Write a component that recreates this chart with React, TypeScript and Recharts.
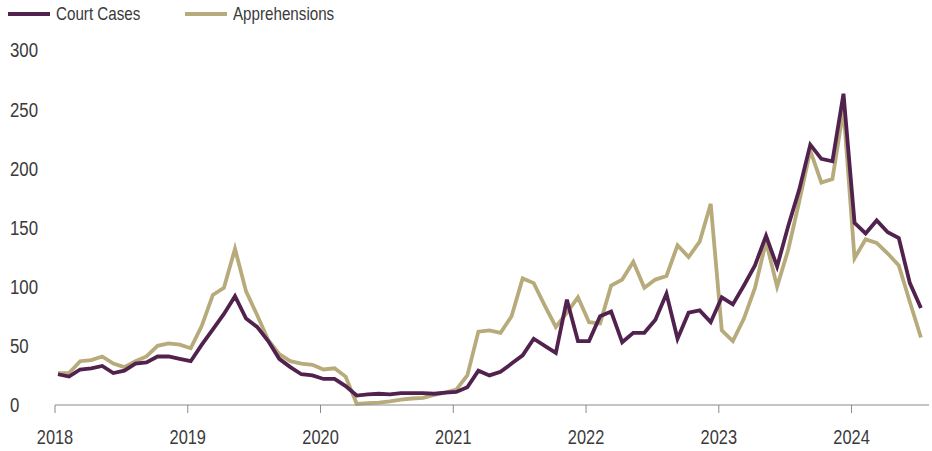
import { LineChart, Line, XAxis, YAxis } from 'recharts';

// Monthly counts, Jan 2018 – Jul 2024
const YEARS = ['2018', '2019', '2020', '2021', '2022', '2023', '2024'];

const COURT_CASES = [
  26, 24, 30, 31, 33, 27, 29, 35, 36, 41, 41, 39,
  37, 51, 64, 77, 92, 73, 66, 54, 39, 32, 26, 25,
  22, 22, 16, 8, 9, 9.5, 9, 10, 10, 10, 9.5, 10.5,
  11, 15, 29, 25, 28, 35, 42, 56, 50, 44, 89, 54,
  54, 75, 79, 53, 61, 61, 72, 94, 56, 78, 80, 70,
  91, 85, 101, 118, 143, 117, 151, 182, 220, 208, 206, 263,
  154, 145, 156, 146, 141, 103, 82,
];

const APPREHENSIONS = [
  27, 27, 37, 38, 41, 35, 32, 37, 41, 50, 52, 51,
  48, 67, 93, 99, 132, 96, 76, 55, 43, 37, 35, 34,
  30, 31, 24, 1, 1.5, 2, 3, 4.5, 5.5, 6, 8.5, 10.5,
  13, 25, 62, 63, 61, 75, 107, 103, 84, 66, 78, 91,
  70, 69, 101, 106, 121, 99, 106, 109, 135, 125, 138, 170,
  63, 54, 73, 99, 138, 100, 131, 172, 215, 188, 191, 250,
  124, 140, 137, 128, 118, 87, 57,
];

const Y_TICKS = [0, 50, 100, 150, 200, 250, 300];

const SERIES = [
  { key: 'court', name: 'Court Cases', color: '#52224f' },
  { key: 'appr', name: 'Apprehensions', color: '#b7aa7b' },
];

// points sit a little after the start of their month
const data = COURT_CASES.map((v, i) => ({
  m: i + 0.27,
  court: v,
  appr: APPREHENSIONS[i],
}));

// no narrow face installed, so squeeze Liberation Sans horizontally
const FONT = '"Liberation Sans", Arial, sans-serif';
const SQUEEZE = 0.82;
const TEXT = '#3a3a3a';

const legendStyle: React.CSSProperties = {
  position: 'absolute',
  top: 4,
  left: 8,
  display: 'flex',
  fontFamily: FONT,
  fontSize: 18.5,
  lineHeight: '20px',
  color: TEXT,
  zIndex: 2,
};

const YTick = ({ y, payload }: any) => (
  <text
    transform={`translate(10,${y}) scale(${SQUEEZE},1)`}
    dy="0.36em"
    textAnchor="start"
    fontFamily={FONT}
    fontSize={20.5}
    fill={TEXT}
  >
    {payload.value}
  </text>
);

const XTick = ({ x, y, payload }: any) => (
  <text
    transform={`translate(${x},${y}) scale(${SQUEEZE},1)`}
    dy="0.71em"
    textAnchor="middle"
    fontFamily={FONT}
    fontSize={20}
    fill={TEXT}
  >
    {YEARS[payload.value / 12]}
  </text>
);

export default function App() {
  return (
    <div style={{ position: 'absolute', left: 0, top: 0, width: 932, height: 451, background: '#fff' }}>
      <div style={legendStyle}>
        {SERIES.map((s, i) => (
          <div key={s.key} style={{ display: 'flex', alignItems: 'center', width: i === 0 ? 177 : 200 }}>
            <span style={{ display: 'inline-block', width: 42, height: 4, background: s.color, marginRight: 6 }} />
            <span style={{ display: 'inline-block', transform: `scaleX(${SQUEEZE})`, transformOrigin: 'left center', whiteSpace: 'nowrap' }}>
              {s.name}
            </span>
          </div>
        ))}
      </div>
      <LineChart width={932} height={451} data={data} margin={{ top: 50, right: 3, left: 0, bottom: 0 }}>
        <XAxis
          dataKey="m"
          type="number"
          domain={[0, 79]}
          ticks={YEARS.map((_, k) => k * 12)}
          height={46}
          stroke="#8a8a8a"
          tickSize={8}
          tickMargin={17}
          tick={<XTick />}
        />
        <YAxis
          domain={[0, 300]}
          ticks={Y_TICKS}
          width={55}
          axisLine={false}
          tickLine={false}
          tick={<YTick />}
        />
        {SERIES.slice().reverse().map((s) => (
          <Line
            key={s.key}
            dataKey={s.key}
            name={s.name}
            stroke={s.color}
            strokeWidth={3.8}
            dot={false}
            type="linear"
            isAnimationActive={false}
          />
        ))}
      </LineChart>
    </div>
  );
}
